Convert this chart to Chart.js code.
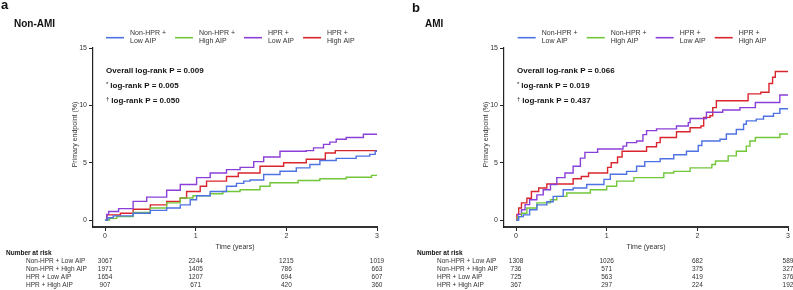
<!DOCTYPE html>
<html><head><meta charset="utf-8">
<script src="https://cdn.jsdelivr.net/npm/chart.js@4.4.1/dist/chart.umd.min.js"></script>
<style>
html,body{margin:0;padding:0;background:#fff;}
#wrap{position:relative;width:793px;height:290px;overflow:hidden;background:#fff;}
canvas{position:absolute;top:0;}
#ca{left:0;} #cb{left:396px;}
</style></head><body>
<div id="wrap"><canvas id="ca" width="396" height="290"></canvas><canvas id="cb" width="397" height="290"></canvas></div>
<script>
// ---------- shared labels ----------
const groupNames = ["Non-HPR + Low AIP", "Non-HPR + High AIP", "HPR + Low AIP", "HPR + High AIP"];
const legendLines = [["Non-HPR +", "Low AIP"], ["Non-HPR +", "High AIP"], ["HPR +", "Low AIP"], ["HPR +", "High AIP"]];
const xTicks = [0, 1, 2, 3];
const yTicks = [0, 5, 10, 15];
const colors = ["#4f72e3", "#72c63a", "#8a40d8", "#d9262e"];

// ---------- Panel a: Non-AMI ----------
const aBlueT = [0, 0.03, 0.09, 0.31, 0.5, 0.68, 0.83, 0.94, 1.01, 1.16, 1.34, 1.45, 1.53, 1.6, 1.75, 1.93, 2.11, 2.26, 2.37, 2.55, 2.77, 2.92, 2.98, 3.0];
const aBlueV = [0, 0.2, 0.37, 0.6, 0.85, 1.05, 1.33, 1.78, 2.13, 2.5, 2.95, 3.2, 3.4, 3.5, 3.97, 4.26, 4.55, 4.85, 5.2, 5.38, 5.58, 5.73, 6.0, 6.0];
const aGreenT = [0, 0.05, 0.13, 0.31, 0.5, 0.68, 0.83, 0.97, 1.16, 1.3, 1.49, 1.71, 1.82, 2.13, 2.37, 2.66, 2.94, 3.0];
const aGreenV = [0, 0.15, 0.3, 0.67, 1.05, 1.5, 1.93, 2.13, 2.3, 2.5, 2.65, 2.95, 3.25, 3.45, 3.6, 3.74, 3.9, 3.9];
const aPurpleT = [0, 0.02, 0.04, 0.15, 0.31, 0.46, 0.68, 0.83, 1.01, 1.16, 1.34, 1.49, 1.64, 1.75, 1.93, 2.22, 2.3, 2.41, 2.48, 2.55, 2.66, 2.85, 3.0];
const aPurpleV = [0, 0.5, 0.75, 1.0, 1.63, 2.0, 2.6, 3.1, 3.7, 4.1, 4.4, 4.6, 5.1, 5.5, 6.0, 6.06, 6.3, 6.6, 6.8, 7.05, 7.2, 7.48, 7.48];
const aRedT = [0, 0.02, 0.17, 0.31, 0.5, 0.68, 0.83, 0.9, 1.05, 1.12, 1.34, 1.47, 1.71, 1.97, 2.22, 2.43, 2.54, 3.0];
const aRedV = [0, 0.46, 0.6, 0.95, 1.33, 1.63, 1.93, 2.5, 2.95, 3.4, 3.8, 4.1, 4.7, 5.0, 5.3, 5.85, 6.06, 6.06];
const aPText = ["Overall log-rank P = 0.009", "log-rank P = 0.005", "log-rank P = 0.050"];
const aRiskNonHprLow = [3067, 2244, 1215, 1019];
const aRiskNonHprHigh = [1971, 1405, 786, 663];
const aRiskHprLow = [1654, 1207, 694, 607];
const aRiskHprHigh = [907, 671, 420, 360];

// ---------- Panel b: AMI ----------
const bBlueT = [0, 0.03, 0.08, 0.15, 0.23, 0.34, 0.41, 0.52, 0.63, 0.78, 0.97, 1.04, 1.22, 1.33, 1.42, 1.59, 1.74, 1.88, 2.01, 2.05, 2.25, 2.32, 2.43, 2.51, 2.54, 2.65, 2.73, 2.84, 2.91, 3.0];
const bBlueV = [0, 0.3, 0.46, 0.9, 1.33, 1.6, 2.07, 2.65, 2.8, 3.1, 3.55, 4.0, 4.25, 4.7, 5.1, 5.35, 5.7, 6.0, 6.5, 6.9, 7.05, 7.5, 7.9, 8.35, 8.65, 8.8, 9.05, 9.3, 9.7, 9.7];
const bGreenT = [0, 0.02, 0.06, 0.12, 0.23, 0.38, 0.45, 0.56, 0.82, 1.0, 1.11, 1.3, 1.63, 1.74, 1.92, 2.16, 2.2, 2.34, 2.43, 2.54, 2.58, 2.64, 2.91, 3.0];
const bGreenV = [0, 0.3, 0.6, 1.05, 1.5, 1.78, 2.07, 2.36, 2.65, 2.95, 3.4, 3.7, 4.1, 4.25, 4.55, 4.85, 5.15, 5.6, 6.0, 6.45, 6.9, 7.2, 7.5, 7.5];
const bPurpleT = [0, 0.02, 0.06, 0.1, 0.15, 0.23, 0.3, 0.38, 0.45, 0.54, 0.63, 0.71, 0.76, 0.9, 1.18, 1.22, 1.33, 1.4, 1.44, 1.55, 1.77, 1.9, 1.92, 2.1, 2.28, 2.47, 2.64, 2.91, 3.0];
const bPurpleV = [0, 0.5, 0.9, 1.35, 1.78, 2.2, 2.65, 3.1, 3.7, 4.1, 4.7, 5.4, 5.9, 6.2, 6.45, 6.75, 6.9, 7.45, 7.8, 7.95, 8.2, 8.5, 8.85, 9.4, 9.6, 9.8, 10.25, 10.9, 10.9];
const bRedT = [0, 0.01, 0.03, 0.06, 0.12, 0.17, 0.25, 0.34, 0.63, 0.72, 0.8, 1.01, 1.05, 1.12, 1.17, 1.44, 1.55, 1.59, 1.77, 1.92, 2.04, 2.07, 2.14, 2.17, 2.21, 2.56, 2.7, 2.79, 2.83, 2.86, 3.0];
const bRedV = [0, 0.5, 1.05, 1.5, 1.9, 2.5, 2.8, 3.15, 3.6, 3.8, 4.1, 4.6, 5.0, 5.5, 6.0, 6.4, 6.75, 7.2, 7.7, 8.05, 8.2, 8.95, 9.1, 9.8, 10.4, 11.0, 11.15, 11.9, 12.45, 12.95, 12.95];
const bPText = ["Overall log-rank P = 0.066", "log-rank P = 0.019", "log-rank P = 0.437"];
const bRiskNonHprLow = [1308, 1026, 682, 589];
const bRiskNonHprHigh = [736, 571, 375, 327];
const bRiskHprLow = [725, 563, 419, 376];
const bRiskHprHigh = [367, 297, 224, 192];

const FF = '"Liberation Sans", Arial, sans-serif';
Chart.defaults.font.family = FF;

function pts(T, V) { return T.map((t, i) => ({ x: t, y: V[i] })); }

function makePanel(canvasId, cfg) {
  const series = cfg.series;
  const datasets = series.map((s, i) => ({
    label: groupNames[i],
    data: pts(s[0], s[1]),
    borderColor: colors[i],
    borderWidth: 1.4,
    pointRadius: 0,
    fill: false,
    stepped: true,
    tension: 0
  }));
  const deco = {
    id: 'deco_' + canvasId,
    afterDraw(chart) {
      const ctx = chart.ctx, xs = chart.scales.x, ys = chart.scales.y, ca = chart.chartArea;
      ctx.save();
      ctx.fillStyle = '#111';
      ctx.textAlign = 'left';
      ctx.textBaseline = 'alphabetic';
      ctx.font = 'bold 13px ' + FF;
      ctx.fillText(cfg.letter, cfg.letterX, cfg.letterY);
      ctx.font = 'bold 10px ' + FF;
      ctx.fillText(cfg.title, cfg.titleX, 26.5);
      // legend
      ctx.font = '7px ' + FF;
      ctx.textBaseline = 'middle';
      let lx = cfg.legendX;
      legendLines.forEach((lines, i) => {
        ctx.strokeStyle = colors[i];
        ctx.lineWidth = 1.6;
        ctx.beginPath(); ctx.moveTo(lx, 37.7); ctx.lineTo(lx + 18, 37.7); ctx.stroke();
        ctx.fillStyle = '#333';
        ctx.fillText(lines[0], lx + 24, 33.5);
        ctx.fillText(lines[1], lx + 24, 41);
        const w = Math.max(ctx.measureText(lines[0]).width, ctx.measureText(lines[1]).width);
        lx += 24 + w + 9;
      });
      // p values
      const px = xs.getPixelForValue(0) + 1;
      ctx.fillStyle = '#111';
      ctx.font = 'bold 8px ' + FF;
      ctx.fillText(cfg.ptext[0], px, 71);
      const syms = ['*', '\u2020'];
      [1, 2].forEach(k => {
        const yy = 86 + (k - 1) * 14.7;
        ctx.font = '6px ' + FF;
        ctx.fillText(syms[k - 1], px, yy - 1.5);
        const sw = ctx.measureText(syms[k - 1]).width;
        ctx.font = 'bold 8px ' + FF;
        ctx.fillText(cfg.ptext[k], px + sw + 2, yy);
      });
      // axis titles
      ctx.fillStyle = '#333';
      ctx.font = '7px ' + FF;
      ctx.textAlign = 'center';
      ctx.fillText('Time (years)', (ca.left + ca.right) / 2, 246.7);
      ctx.save();
      ctx.translate(ca.left - 18, (ca.top + ca.bottom) / 2 - 3);
      ctx.rotate(-Math.PI / 2);
      ctx.fillText('Primary endpoint (%)', 0, 0);
      ctx.restore();
      // number at risk table
      ctx.textAlign = 'left';
      ctx.fillStyle = '#111';
      ctx.font = 'bold 6.5px ' + FF;
      ctx.fillText('Number at risk', cfg.tableX, 253.7);
      ctx.font = '6.5px ' + FF;
      ctx.fillStyle = '#333';
      cfg.risk.forEach((row, r) => {
        const yy = 261.5 + r * 7.8;
        ctx.textAlign = 'left';
        ctx.fillText(groupNames[r], cfg.tableX + 20, yy);
        ctx.textAlign = 'center';
        row.forEach((v, c) => ctx.fillText(String(v), xs.getPixelForValue(xTicks[c]), yy));
      });
      ctx.restore();
    }
  };
  return new Chart(document.getElementById(canvasId), {
    type: 'line',
    data: { datasets },
    options: {
      responsive: false,
      animation: false,
      devicePixelRatio: 1,
      layout: { padding: cfg.padding },
      plugins: { legend: { display: false }, tooltip: { enabled: false } },
      scales: {
        x: {
          type: 'linear', min: -0.1325, max: 3,
          afterBuildTicks: s => { s.ticks = xTicks.map(v => ({ value: v })); },
          afterFit: s => { s.height = 63; },
          grid: { drawOnChartArea: false, drawTicks: true, tickLength: 4, color: '#222', lineWidth: 1 },
          border: { display: true, color: '#333', width: 2 },
          ticks: { color: '#333', font: { size: 7 }, padding: 1, maxRotation: 0, autoSkip: false }
        },
        y: {
          type: 'linear', min: -0.6, max: 15,
          afterBuildTicks: s => { s.ticks = yTicks.map(v => ({ value: v })); },
          afterFit: s => { s.width = 31; },
          grid: { drawOnChartArea: false, drawTicks: true, tickLength: 4, color: '#222', lineWidth: 1 },
          border: { display: true, color: '#222', width: 1.2 },
          ticks: { color: '#333', font: { size: 7 }, padding: 2, autoSkip: false }
        }
      }
    },
    plugins: [deco]
  });
}

makePanel('ca', {
  series: [[aBlueT, aBlueV], [aGreenT, aGreenV], [aPurpleT, aPurpleV], [aRedT, aRedV]],
  risk: [aRiskNonHprLow, aRiskNonHprHigh, aRiskHprLow, aRiskHprHigh],
  ptext: aPText, letter: 'a', letterX: 1, letterY: 8.8, title: 'Non-AMI', titleX: 14,
  legendX: 106, tableX: 6, padding: { left: 62, top: 48, right: 19, bottom: 0 }
});
makePanel('cb', {
  series: [[bBlueT, bBlueV], [bGreenT, bGreenV], [bPurpleT, bPurpleV], [bRedT, bRedV]],
  risk: [bRiskNonHprLow, bRiskNonHprHigh, bRiskHprLow, bRiskHprHigh],
  ptext: bPText, letter: 'b', letterX: 16, letterY: 11.5, title: 'AMI', titleX: 29,
  legendX: 121.7, tableX: 21, padding: { left: 77, top: 48, right: 5, bottom: 0 }
});
</script>
</body></html>
